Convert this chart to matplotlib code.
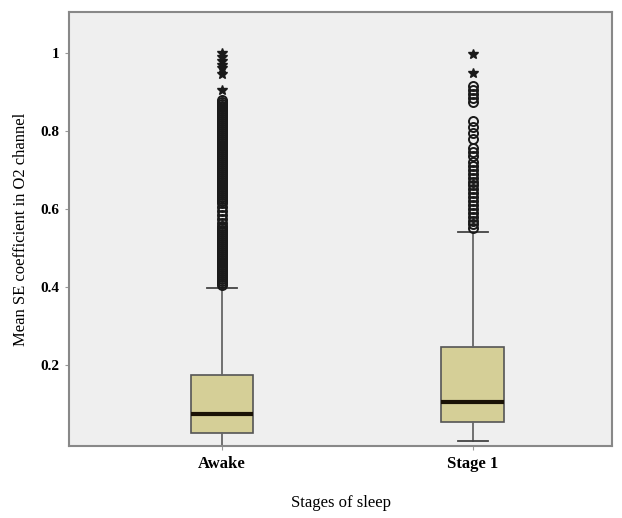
import matplotlib.pyplot as plt

# region ###### DATA ######
stages = ['Awake', 'Stage 1']
q1 = [0.026, 0.054]
medians = [0.075, 0.105]
q3 = [0.174, 0.247]
whisker_low = [-0.02, 0.006]
whisker_high = [0.398, 0.540]

# open-circle outliers
awake_outliers = [0.405, 0.41, 0.415, 0.42, 0.425, 0.43, 0.435, 0.44, 0.445, 0.45,
                  0.455, 0.46, 0.465, 0.47, 0.475, 0.48, 0.485, 0.49, 0.495, 0.50,
                  0.505, 0.51, 0.515, 0.52, 0.525, 0.53, 0.535, 0.54, 0.545, 0.55,
                  0.555, 0.565, 0.575, 0.585, 0.595, 0.605, 0.615, 0.62, 0.625, 0.63,
                  0.635, 0.64, 0.645, 0.65, 0.655, 0.66, 0.665, 0.67, 0.675, 0.68,
                  0.685, 0.69, 0.695, 0.70, 0.705, 0.71, 0.715, 0.72, 0.725, 0.73,
                  0.735, 0.74, 0.745, 0.75, 0.755, 0.76, 0.765, 0.77, 0.775, 0.78,
                  0.785, 0.79, 0.795, 0.80, 0.805, 0.81, 0.815, 0.82, 0.825, 0.83,
                  0.835, 0.84, 0.845, 0.85, 0.855, 0.86, 0.865, 0.87, 0.875, 0.88]
stage1_outliers = [0.55, 0.56, 0.57, 0.58, 0.59, 0.60, 0.61, 0.62, 0.63, 0.64,
                   0.65, 0.66, 0.67, 0.68, 0.69, 0.70, 0.71, 0.72, 0.735, 0.745,
                   0.755, 0.78, 0.795, 0.81, 0.825, 0.875, 0.885, 0.895, 0.905, 0.915]

# star (extreme) outliers
awake_extremes = [1.0, 0.99, 0.98, 0.97, 0.96, 0.945, 0.905]
stage1_extremes = [0.997, 0.948]

y_ticks = [0.2, 0.4, 0.6, 0.8, 1.0]
y_tick_labels = ['0.2', '0.4', '0.6', '0.8', '1']
# endregion

plt.rcParams['font.family'] = ['Liberation Serif', 'DejaVu Serif']

fig = plt.figure(figsize=(6.22, 5.18), dpi=100)
ax = fig.add_axes([0.111, 0.139, 0.873, 0.838])
ax.set_facecolor('#efefef')

positions = [1, 2]
outliers = [awake_outliers, stage1_outliers]
stats = []
for i, name in enumerate(stages):
	stats.append({'label': name, 'q1': q1[i], 'med': medians[i], 'q3': q3[i],
	              'whislo': whisker_low[i], 'whishi': whisker_high[i],
	              'fliers': outliers[i]})

ax.bxp(stats, positions=positions, widths=0.25, patch_artist=True,
       boxprops=dict(facecolor='#d5cf97', edgecolor='#555555', linewidth=1.2),
       medianprops=dict(color='#1a1206', linewidth=3),
       whiskerprops=dict(color='#666666', linewidth=1.3),
       capprops=dict(color='#444444', linewidth=1.3),
       capwidths=0.12,
       flierprops=dict(marker='o', markersize=6.5, markerfacecolor='none',
                       markeredgecolor='#1a1a1a', markeredgewidth=1.4))

# extremes as stars
for pos, vals in zip(positions, [awake_extremes, stage1_extremes]):
	ax.plot([pos] * len(vals), vals, linestyle='none', marker='*', markersize=7,
	        color='#1a1a1a')

ax.set_xlim(0.389, 2.557)
ax.set_ylim(-0.008, 1.105)
ax.set_yticks(y_ticks)
ax.set_yticklabels(y_tick_labels, fontsize=11, fontweight='bold')
ax.set_xticks(positions)
ax.set_xticklabels(stages, fontsize=12, fontweight='bold')
ax.tick_params(axis='both', length=3, color='#999999', pad=4)

for side in ['top', 'right', 'bottom', 'left']:
	ax.spines[side].set_color('#888888')
	ax.spines[side].set_linewidth(1.5)

ax.set_ylabel('Mean SE coefficient in O2 channel', fontsize=12, labelpad=8)
ax.set_xlabel('Stages of sleep', fontsize=12, labelpad=17)

plt.savefig('out.png', dpi=100)
